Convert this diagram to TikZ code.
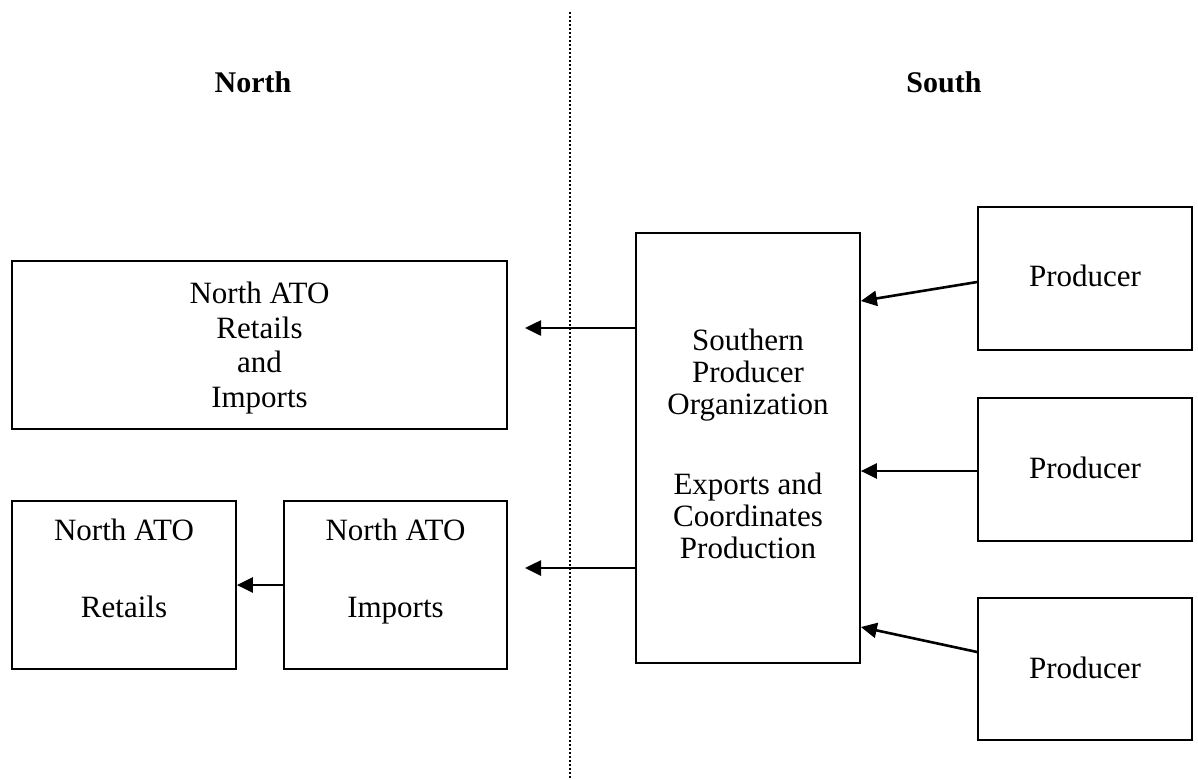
\documentclass[tikz,border=0pt]{standalone}
\usepackage{fontspec}
\setmainfont{Liberation Serif}
\usetikzlibrary{arrows.meta}
\begin{document}
\begin{tikzpicture}[x=1pt,y=-1pt,
  box/.style={draw,line width=1.7pt,inner sep=0pt},
  txt/.style={font=\fontsize{31}{32}\selectfont,align=center,inner sep=0pt,anchor=north},
  head/.style={font=\fontsize{30}{32}\selectfont\bfseries,inner sep=0pt},
  conn/.style={line width=2.6pt,-{Triangle[length=16pt,width=15pt]}},
  divider/.style={line width=1.8pt,dash pattern=on 1.6pt off 2.4pt}]
\useasboundingbox (0,0) rectangle (1198,779);
% divider
\coordinate (dtop) at (570,12);
\coordinate (dbot) at (570,779);
\draw[divider] (dtop) -- (dbot);
% headings
\node[head] (north) at (253,82) {North};
\node[head] (south) at (944,82) {South};
% boxes
\node[box,minimum width=495pt,minimum height=168pt] (nri) at (259.5,345) {};
\node[box,minimum width=224pt,minimum height=168pt] (ret) at (124,585) {};
\node[box,minimum width=223pt,minimum height=168pt] (imp) at (395.5,585) {};
\node[box,minimum width=224pt,minimum height=430pt] (spo) at (748,448) {};
\node[box,minimum width=214pt,minimum height=143pt] (p1) at (1085,278.5) {};
\node[box,minimum width=214pt,minimum height=143pt] (p2) at (1085,469.5) {};
\node[box,minimum width=214pt,minimum height=142pt] (p3) at (1085,669) {};
% texts
\node[txt,font=\fontsize{31}{34.5}\selectfont] (nriT) at (259.5,282) {North ATO\\Retails\\and\\Imports};
\node[txt] (retT) at (124,519) {North ATO\\[45pt]Retails};
\node[txt] (impT) at (395.5,519) {North ATO\\[45pt]Imports};
\node[txt] (spoT) at (748,329) {Southern\\Producer\\Organization\\[48pt]Exports and\\Coordinates\\Production};
\node[txt,anchor=center] (p1T) at (1085,276) {Producer};
\node[txt,anchor=center] (p2T) at (1085,468) {Producer};
\node[txt,anchor=center] (p3T) at (1085,668) {Producer};
% connectors
\coordinate (a1s) at (spo.west |- 0,328);
\coordinate (a1e) at (525,328);
\coordinate (a2s) at (spo.west |- 0,568);
\coordinate (a2e) at (525,568);
\draw[conn] (a1s) -- (a1e);
\draw[conn] (a2s) -- (a2e);
\draw[conn] (imp.west |- 0,585) -- (ret.east |- 0,585);
\draw[conn] (p1.west |- 0,282) -- (spo.east |- 0,301);
\draw[conn] (p2.west |- 0,471) -- (spo.east |- 0,471);
\draw[conn] (p3.west |- 0,652) -- (spo.east |- 0,627);
\end{tikzpicture}
\end{document}
